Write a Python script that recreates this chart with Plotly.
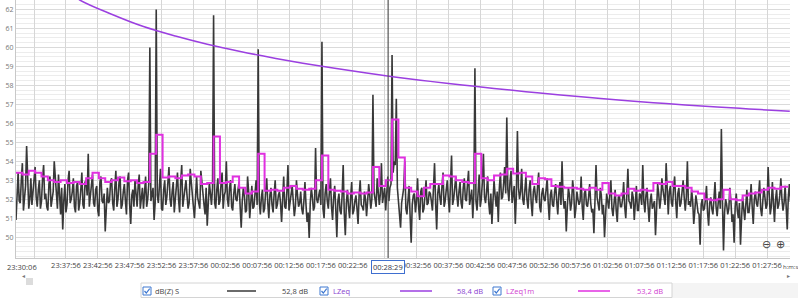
import numpy as np
import pandas as pd
import plotly.graph_objects as go

START = pd.Timestamp("2024-01-01 23:30:06")
END = pd.Timestamp("2024-01-02 01:31:32")
CURSOR = pd.Timestamp("2024-01-02 00:28:29")

# dB(Z) S  - samples at START + 20 s * i
dbz_s_a = [
    50.9, 53.4, 51.8, 53.9, 52.2, 54.8, 51.5, 53.1, 52.4, 53.7, 51.6, 53.0, 51.9, 53.8, 52.3,
    51.4, 53.2, 51.9, 54.0, 52.1, 53.3, 51.2, 50.4, 52.8, 51.7, 53.5, 52.0, 53.1, 51.3, 52.9,
    51.8, 53.4, 51.5, 53.0, 54.4, 52.2, 53.3, 51.6, 52.7, 51.1, 53.2, 51.8, 50.3, 52.6, 51.9,
    53.1, 51.4, 53.5, 52.0, 53.2, 51.7, 52.8, 51.2, 53.4, 50.7, 52.5, 53.0, 51.6, 53.3, 52.1,
    51.5, 53.2, 52.0, 60.0, 52.4, 50.9, 62.0, 51.8, 53.6, 51.4, 53.0, 52.1, 53.7, 51.6, 52.9,
    51.9, 53.4, 51.3, 53.8, 52.2, 53.0, 51.5, 53.6, 52.4, 51.0, 53.2, 51.8, 53.5, 52.0, 51.2,
    50.6, 52.9, 51.7, 61.7, 51.5, 53.1, 51.9, 53.4, 52.2, 54.0, 51.6, 53.0, 51.4, 52.8, 51.9,
    52.9, 50.5, 52.6, 51.3, 53.2, 51.0, 52.7, 51.6, 53.0, 59.9, 51.2, 52.5, 51.5, 53.1, 51.0,
    52.6, 51.3, 53.0, 51.7, 52.4, 50.8, 53.2, 51.5, 53.8, 51.9, 52.7, 51.1, 53.0, 51.6, 52.4,
    51.2, 52.9, 50.8, 49.95, 52.6, 51.4, 54.7, 51.8, 52.5, 60.3, 51.0, 52.8, 51.5, 53.1, 50.9,
    52.7, 50.0, 52.3, 51.2, 53.8, 50.1, 52.5, 51.0, 52.9, 51.4, 52.2, 50.7, 53.0, 51.6, 52.4,
    51.1, 52.8, 51.5, 57.5, 52.0, 53.1, 51.7, 53.9, 52.3, 51.4, 53.2, 52.6, 59.6, 54.0, 57.3,
    51.8, 50.5, 52.4, 54.0, 51.2, 52.7, 49.7, 52.2, 51.3, 53.1, 50.9, 52.6, 51.5, 53.0, 51.8,
    52.3, 51.4, 53.9, 50.4, 52.8, 51.7, 53.4, 51.9, 53.0, 51.3, 54.3, 52.0, 53.2, 51.6, 52.9,
    51.5, 53.1, 51.9, 53.5, 52.2, 51.0, 58.9, 51.4, 53.3, 52.0, 54.4, 51.8, 53.2, 51.2, 50.7,
    53.0, 51.6, 50.8, 53.4, 52.1, 53.7, 56.3, 51.9, 53.5, 52.4, 50.7, 55.6, 52.0, 53.6, 51.7,
    53.2, 51.5, 53.0, 51.1, 52.7, 51.8, 53.4, 51.3, 52.6, 51.9, 53.1, 50.9, 52.5, 51.6, 52.8,
    51.2, 52.9, 54.0, 51.5, 50.3, 52.6, 51.4, 53.0, 51.0, 52.4, 51.7, 53.2, 50.9, 52.5, 51.6,
    52.8, 51.3, 50.2, 53.8, 51.7, 52.6, 51.2, 50.0, 52.3, 51.5, 53.0, 51.1, 52.5, 50.8, 52.2,
    51.6, 52.9, 51.0, 53.6, 51.8, 52.4, 50.9, 52.7, 51.4, 52.2, 53.8, 51.3, 52.6, 50.8, 52.3,
    51.7, 50.1, 52.8, 51.5, 53.1, 51.9, 53.9, 51.2, 52.7, 51.6, 53.2, 51.0, 52.6, 51.8, 53.0,
    51.4, 54.0, 51.9, 52.5, 50.7, 52.2, 51.3, 49.6, 52.0, 51.5, 52.7, 50.6, 52.1, 51.2, 52.9,
    51.1, 52.4, 55.7, 49.3, 52.0, 51.2, 52.6, 50.8, 49.7, 52.3, 51.0, 49.6, 52.1, 50.9, 52.5,
    51.3, 52.8, 50.7, 52.4, 51.6, 53.0, 51.1, 52.6, 51.5, 53.7, 51.2, 52.9, 50.8, 52.5, 51.7,
    53.1, 51.4, 52.7, 50.4, 52.8, 51.9,
]
# dB(Z) S  - samples at START + 10 s + 20 s * i
dbz_s_b = [
    52.6, 51.9, 53.0, 51.4, 52.7, 53.2, 52.0, 51.7, 53.3, 52.1, 52.5, 51.5, 53.1, 52.0, 51.6,
    52.8, 51.6, 52.4, 53.0, 51.5, 52.1, 52.6, 51.9, 51.3, 53.0, 51.8, 52.4, 51.6, 52.7, 51.4,
    52.5, 51.7, 52.9, 52.2, 51.6, 53.0, 51.8, 52.5, 51.4, 52.9, 51.9, 52.3, 51.5, 51.8, 52.9,
    51.8, 52.6, 51.6, 52.9, 51.5, 52.4, 51.9, 53.0, 51.7, 52.2, 51.6, 52.3, 52.7, 51.5, 52.6,
    52.3, 51.6, 52.8, 51.9, 52.6, 51.8, 52.2, 52.7, 51.5, 52.5, 51.7, 52.9, 52.0, 52.4, 51.3,
    52.6, 52.0, 52.9, 51.6, 52.4, 52.2, 51.8, 52.9, 51.6, 52.5, 52.1, 51.5, 52.8, 51.7, 52.6,
    51.9, 52.3, 52.6, 51.8, 52.5, 51.7, 52.8, 51.5, 52.4, 52.0, 52.6, 51.6, 52.3, 52.0, 52.5,
    51.6, 51.9, 52.2, 51.4, 52.4, 51.8, 51.5, 52.3, 51.7, 51.9, 52.1, 51.3, 52.4, 51.8, 52.2,
    51.7, 52.3, 51.5, 52.2, 51.8, 52.0, 51.6, 52.4, 51.4, 52.3, 51.9, 51.6, 52.2, 51.8, 51.5,
    51.9, 51.7, 51.3, 51.8, 52.1, 51.6, 52.0, 52.2, 51.7, 51.5, 52.3, 51.9, 52.4, 51.6, 52.1,
    51.5, 51.9, 51.4, 52.2, 51.3, 51.8, 51.6, 52.1, 51.2, 51.9, 51.5, 52.2, 51.7, 51.4, 52.0,
    51.9, 52.2, 52.0, 52.4, 51.6, 52.5, 52.3, 51.8, 52.6, 52.2, 51.9, 52.8, 53.4, 53.8, 52.6,
    51.4, 51.8, 52.6, 51.5, 52.0, 51.1, 51.7, 52.3, 51.9, 51.6, 52.4, 51.3, 52.2, 51.7, 52.4,
    51.9, 52.6, 51.8, 52.3, 52.1, 52.7, 51.6, 52.5, 52.0, 52.8, 51.7, 52.6, 52.2, 52.4, 51.8,
    52.6, 52.0, 52.8, 51.7, 52.5, 52.3, 51.9, 52.7, 51.6, 52.9, 52.1, 52.4, 51.8, 52.3, 51.9,
    52.2, 52.4, 52.6, 52.0, 52.8, 52.3, 52.5, 52.9, 51.8, 52.7, 52.2, 52.6, 52.4, 52.0, 52.8,
    52.0, 52.5, 51.8, 52.4, 52.1, 52.7, 51.6, 52.3, 52.0, 52.5, 51.8, 52.2, 51.7, 52.4, 51.9,
    52.3, 51.7, 52.1, 51.9, 51.6, 52.2, 51.8, 52.4, 51.5, 52.0, 51.9, 51.6, 52.3, 51.7, 52.1,
    51.8, 51.5, 51.9, 52.1, 51.4, 52.2, 51.7, 51.6, 51.9, 52.3, 51.5, 51.8, 51.4, 52.1, 51.6,
    52.0, 51.6, 52.2, 51.9, 51.5, 52.1, 51.8, 51.4, 52.3, 51.7, 51.9, 52.2, 51.6, 51.9, 51.5,
    51.9, 51.8, 52.3, 52.0, 52.5, 51.7, 52.2, 52.4, 51.8, 52.6, 51.9, 52.3, 51.6, 52.4, 52.1,
    52.1, 51.7, 51.6, 51.9, 51.4, 51.8, 51.2, 51.7, 51.4, 52.0, 51.3, 51.8, 51.5, 52.0, 51.6,
    51.8, 51.5, 51.9, 51.3, 51.7, 51.5, 51.9, 51.2, 51.6, 51.4, 51.8, 51.0, 51.5, 51.7, 51.3,
    51.9, 51.6, 52.0, 51.8, 52.2, 51.5, 51.9, 52.1, 51.7, 52.3, 51.6, 51.8, 52.0, 51.5, 52.2,
    52.0, 51.8, 51.6, 52.1, 51.9, 52.3,
]
DBZ_STEP_S = 10

# LZeq1m - one value per minute
lzeq1m = [
    53.4, 53.3, 53.5, 53.4, 53.2, 53.0, 52.9, 53.0, 52.85, 52.9,
    52.8, 53.1, 53.4, 53.1, 52.9, 53.0, 53.15, 52.95, 53.0, 52.85,
    52.9, 54.4, 55.4, 53.15, 53.2, 53.1, 53.25, 53.3, 53.2, 52.8,
    52.85, 55.3, 52.85, 52.9, 53.2, 52.6, 52.3, 52.4, 54.4, 52.45,
    52.5, 52.45, 52.6, 52.7, 52.55, 52.5, 52.55, 53.0, 54.3, 52.5,
    52.45, 52.4, 52.3, 52.35, 52.3, 52.35, 53.7, 52.7, 53.0, 56.2,
    54.2, 52.6, 52.4, 52.15, 52.6, 52.8, 52.8, 53.25, 53.2, 53.0,
    52.9, 52.85, 54.4, 53.1, 53.0, 53.25, 53.3, 53.6, 53.35, 53.4,
    53.2, 52.8, 53.1, 53.05, 52.7, 52.65, 52.6, 52.6, 52.55, 52.5,
    52.6, 52.5, 52.85, 52.3, 52.2, 52.3, 52.55, 52.45, 52.5, 52.45,
    52.85, 52.8, 52.9, 52.7, 52.7, 52.6, 52.4, 52.3, 52.0, 51.95,
    52.0, 52.5, 52.0, 51.95, 52.2, 52.3, 52.35, 52.5, 52.6, 52.55,
    52.65, 52.6,
]
LZEQ1M_STEP_S = 60

# LZeq (running) - minutes after start and value
lzeq_min = [7, 10, 15, 20, 25, 30, 35, 40, 45, 50, 55, 60, 65, 70, 75, 80, 85, 90,
            95, 100, 105, 110, 115, 120, 121.4]
lzeq_val = [63.2, 62.5, 61.75, 61.1, 60.6, 60.17, 59.8, 59.47, 59.17, 58.9, 58.65,
            58.42, 58.21, 58.02, 57.84, 57.67, 57.51, 57.36, 57.22, 57.09, 56.97, 56.86,
            56.76, 56.66, 56.63]

legend_names = ["dB(Z) S", "LZeq", "LZeq1m"]
legend_values = ["52,8 dB", "58,4 dB", "53,2 dB"]

C_BLACK = "#383838"
C_LZEQ = "#9b3fe0"
C_1M = "#e030e0"

dbz_s = [v for pair in zip(dbz_s_a, dbz_s_b) for v in pair]
t_black = START + pd.to_timedelta(np.arange(len(dbz_s)) * DBZ_STEP_S, unit="s")
t_1m = START + pd.to_timedelta(np.arange(len(lzeq1m)) * LZEQ1M_STEP_S, unit="s")
t_lzeq = START + pd.to_timedelta(np.array(lzeq_min) * 60, unit="s")

fig = go.Figure()
fig.add_trace(go.Scatter(x=t_black, y=dbz_s, mode="lines",
                         line=dict(color=C_BLACK, width=1.6), name=legend_names[0]))
fig.add_trace(go.Scatter(x=t_1m, y=lzeq1m, mode="lines", line_shape="hv",
                         line=dict(color=C_1M, width=2), name=legend_names[2]))
fig.add_trace(go.Scatter(x=t_lzeq, y=lzeq_val, mode="lines", line_shape="spline",
                         line=dict(color=C_LZEQ, width=1.5), name=legend_names[1]))

# x ticks every 5 minutes from 23:32:56 (first and cursor-covered labels blank)
tick_vals = []
tick_text = []
t = pd.Timestamp("2024-01-01 23:32:56")
while t <= END:
    tick_vals.append(t)
    if t == pd.Timestamp("2024-01-01 23:32:56") or t == pd.Timestamp("2024-01-02 00:27:56"):
        tick_text.append("")
    else:
        tick_text.append(t.strftime("%H:%M:%S"))
    t += pd.Timedelta(minutes=5)

W, H = 798, 298
L, R, T, B = 16, 8, 0, 40
PW, PH = W - L - R, H - T - B
YMIN, YMAX = 48.9, 62.5


def px(x):
    return (x - L) / PW


def py(y):
    return (H - B - y) / PH


font = "Open Sans, Noto Sans, sans-serif"

fig.update_layout(
    width=W, height=H,
    margin=dict(l=L, r=R, t=T, b=B),
    paper_bgcolor="white", plot_bgcolor="white",
    showlegend=False,
    font=dict(family=font, size=8, color="#555"),
    xaxis=dict(
        range=[START, END], tickvals=tick_vals, ticktext=tick_text,
        showgrid=True, gridcolor="#d6d6d6", gridwidth=1,
        showline=True, linecolor="#c8c8c8", ticks="", tickfont=dict(size=7.5, color="#444"),
        zeroline=False, mirror=False,
    ),
    yaxis=dict(
        range=[YMIN, YMAX], tickvals=list(range(50, 63)),
        showgrid=True, gridcolor="#dadada", gridwidth=1,
        minor=dict(dtick=0.25, showgrid=True, gridcolor="#ececec", gridwidth=1),
        showline=True, linecolor="#c8c8c8", ticks="",
        tickfont=dict(size=7, color="#777"), zeroline=False,
    ),
)

shapes = []
# cursor line
shapes.append(dict(type="line", xref="x", yref="paper", x0=CURSOR, x1=CURSOR, y0=0, y1=1,
                   line=dict(color="#555", width=1.2)))
# legend frame and grey filler
shapes.append(dict(type="rect", xref="paper", yref="paper", x0=px(672), x1=px(798),
                   y0=py(298), y1=py(283), fillcolor="#f4f4f4", line=dict(width=0)))
shapes.append(dict(type="rect", xref="paper", yref="paper", x0=px(141), x1=px(672),
                   y0=py(297.5), y1=py(283), fillcolor="white", line=dict(color="#d4d4d4", width=1)))
# scrollbar thumb
shapes.append(dict(type="rect", xref="paper", yref="paper", x0=px(26), x1=px(33),
                   y0=py(285), y1=py(278), fillcolor="#dcdcdc", line=dict(width=0)))

annotations = []
items = [(147, 153, 227, 256, 280, legend_names[0], legend_values[0], C_BLACK, "#444"),
         (324, 331, 400, 432, 455, legend_names[1], legend_values[1], C_LZEQ, "#8a3fd0"),
         (497, 504, 578, 610, 635, legend_names[2], legend_values[2], C_1M, "#d040d0")]
ly = 291
for cbx, txx, l0, l1, vx, name, val, lc, tc in items:
    shapes.append(dict(type="rect", xref="paper", yref="paper", x0=px(cbx - 4), x1=px(cbx + 4),
                       y0=py(ly + 4), y1=py(ly - 4), fillcolor="white",
                       line=dict(color="#3f78d0", width=1)))
    shapes.append(dict(type="path", xref="paper", yref="paper",
                       path=f"M {px(cbx-2.5)} {py(ly)} L {px(cbx-0.7)} {py(ly+2)} L {px(cbx+2.7)} {py(ly-2.3)}",
                       line=dict(color="#3f78d0", width=1.2)))
    shapes.append(dict(type="line", xref="paper", yref="paper", x0=px(l0), x1=px(l1),
                       y0=py(ly), y1=py(ly), line=dict(color=lc, width=1.5)))
    annotations.append(dict(xref="paper", yref="paper", x=px(txx), y=py(ly), text=name,
                            showarrow=False, xanchor="left", yanchor="middle",
                            font=dict(size=7.5, color=tc)))
    annotations.append(dict(xref="paper", yref="paper", x=px(vx), y=py(ly), text=val,
                            showarrow=False, xanchor="left", yanchor="middle",
                            font=dict(size=7.5, color=tc)))

# start time label
annotations.append(dict(xref="paper", yref="paper", x=px(5), y=py(267), text=START.strftime("%H:%M:%S"),
                        showarrow=False, xanchor="left", yanchor="middle",
                        font=dict(size=7.5, color="#444")))
# cursor time label
annotations.append(dict(xref="x", yref="paper", x=CURSOR, y=py(267), text=CURSOR.strftime("%H:%M:%S"),
                        showarrow=False, xanchor="center", yanchor="middle",
                        font=dict(size=7.5, color="#334"), bgcolor="white",
                        bordercolor="#3f6fd0", borderwidth=1, borderpad=1))
# axis unit
annotations.append(dict(xref="paper", yref="paper", x=px(781), y=py(267), text="h:m:s",
                        showarrow=False, xanchor="left", yanchor="middle",
                        font=dict(size=6, color="#444")))
# zoom buttons
annotations.append(dict(xref="paper", yref="paper", x=px(773), y=py(253), text="⊖",
                        showarrow=False, font=dict(size=11, color="#444")))
annotations.append(dict(xref="paper", yref="paper", x=px(787), y=py(253), text="⊕",
                        showarrow=False, font=dict(size=11, color="#444")))
# scroll arrows
annotations.append(dict(xref="paper", yref="paper", x=px(20), y=py(282), text="◂",
                        showarrow=False, font=dict(size=6, color="#777")))
annotations.append(dict(xref="paper", yref="paper", x=px(792), y=py(282), text="▸",
                        showarrow=False, font=dict(size=6, color="#777")))

fig.update_layout(shapes=shapes, annotations=annotations)
fig.write_html("out.html", config={"displayModeBar": False})
